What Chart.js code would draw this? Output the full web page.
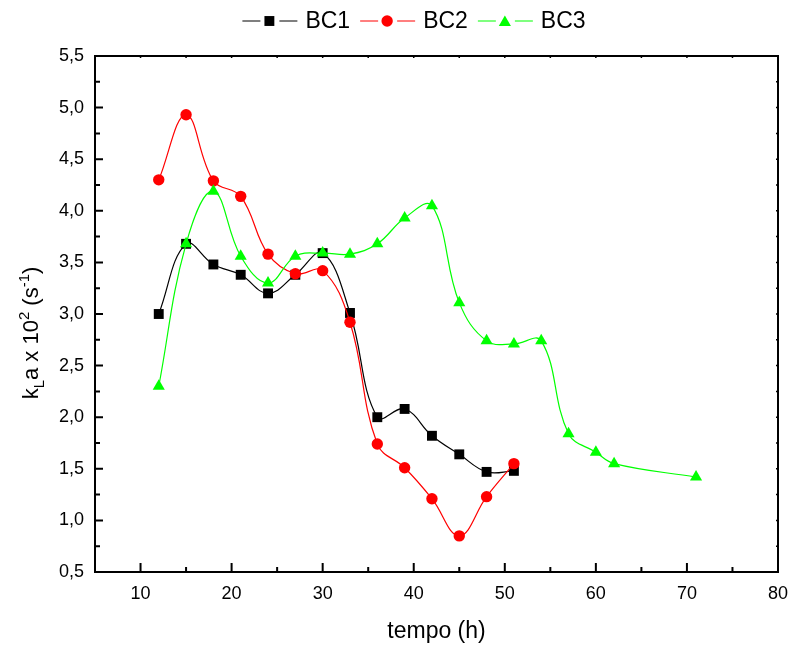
<!DOCTYPE html>
<html>
<head>
<meta charset="utf-8">
<script src="https://cdn.jsdelivr.net/npm/chart.js@4/dist/chart.umd.min.js"></script>
<style>
  html, body { margin: 0; padding: 0; background: #fff; }
  #wrap { width: 790px; height: 646px; }
</style>
</head>
<body>
<div id="wrap"><canvas id="c" width="790" height="646"></canvas></div>
<script>
// Sampling times (h) and kLa x 10^2 (s^-1) for the three runs
const hoursBC12 = [12, 15, 18, 21, 24, 27, 30, 33, 36, 39, 42, 45, 48, 51];
const kLaBC1 = [3.00, 3.68, 3.48, 3.38, 3.20, 3.38, 3.59, 3.01, 2.00, 2.08, 1.82, 1.64, 1.47, 1.48];
const kLaBC2 = [4.30, 4.93, 4.29, 4.14, 3.58, 3.39, 3.42, 2.92, 1.74, 1.51, 1.21, 0.85, 1.23, 1.55];
const hoursBC3 = [12, 15, 18, 21, 24, 27, 30, 33, 36, 39, 42, 45, 48, 51, 54, 57, 60, 62, 71];
const kLaBC3 = [2.30, 3.68, 4.19, 3.56, 3.30, 3.56, 3.59, 3.58, 3.68, 3.93, 4.05, 3.11, 2.74, 2.71, 2.74, 1.84, 1.66, 1.55, 1.42];

const seriesNames = ['BC1', 'BC2', 'BC3'];
const xTicks = [10, 20, 30, 40, 50, 60, 70, 80];
const yTicks = [0.5, 1.0, 1.5, 2.0, 2.5, 3.0, 3.5, 4.0, 4.5, 5.0, 5.5];
const yTickLabels = ['0,5', '1,0', '1,5', '2,0', '2,5', '3,0', '3,5', '4,0', '4,5', '5,0', '5,5'];

const FONT = '"Liberation Sans", Arial, Helvetica, sans-serif';

const toPoints = (xs, ys) => xs.map((x, i) => ({ x: x, y: ys[i] }));

// Frame, inward ticks, axis titles and line+marker legend
const decorations = {
  id: 'decorations',
  afterDraw(chart) {
    const ctx = chart.ctx;
    const a = chart.chartArea;
    const xs = chart.scales.x, ys = chart.scales.y;
    ctx.save();
    ctx.strokeStyle = '#000';
    ctx.lineWidth = 2;
    ctx.strokeRect(a.left, a.top, a.right - a.left, a.bottom - a.top);

    // major / minor ticks on left and bottom, pointing inwards
    ctx.lineWidth = 2;
    ctx.beginPath();
    xTicks.forEach((v) => {
      const px = xs.getPixelForValue(v);
      ctx.moveTo(px, a.bottom); ctx.lineTo(px, a.bottom - 9);
      const pm = xs.getPixelForValue(v - (xTicks[1] - xTicks[0]) / 2);
      ctx.moveTo(pm, a.bottom); ctx.lineTo(pm, a.bottom - 5);
    });
    yTicks.forEach((v, i) => {
      const py = ys.getPixelForValue(v);
      ctx.moveTo(a.left, py); ctx.lineTo(a.left + 8, py);
      if (i < yTicks.length - 1) {
        const pm = ys.getPixelForValue((v + yTicks[i + 1]) / 2);
        ctx.moveTo(a.left, pm); ctx.lineTo(a.left + 5, pm);
      }
    });
    ctx.stroke();

    // tiny ticks on the top and right edges
    ctx.lineWidth = 1.5;
    ctx.beginPath();
    xTicks.forEach((v) => {
      [v - 5, v].forEach((t) => {
        const px = xs.getPixelForValue(t);
        ctx.moveTo(px, a.top); ctx.lineTo(px, a.top + 2);
      });
    });
    yTicks.forEach((v, i) => {
      if (i < yTicks.length - 1) {
        [v, (v + yTicks[i + 1]) / 2].forEach((t) => {
          const py = ys.getPixelForValue(t);
          ctx.moveTo(a.right, py); ctx.lineTo(a.right - 2, py);
        });
      }
    });
    ctx.stroke();

    // x axis title
    ctx.fillStyle = '#000';
    ctx.font = '23px ' + FONT;
    ctx.textAlign = 'center';
    ctx.textBaseline = 'middle';
    ctx.fillText('tempo (h)', (a.left + a.right) / 2, 632);

    // y axis title with sub/superscripts
    const big = '22px ' + FONT, small = '15px ' + FONT;
    const parts = [
      { t: 'k', f: big, dy: 0 },
      { t: 'L', f: small, dy: 6 },
      { t: 'a x 10', f: big, dy: 0 },
      { t: '2', f: small, dy: -9 },
      { t: ' (s', f: big, dy: 0 },
      { t: '-1', f: small, dy: -9 },
      { t: ')', f: big, dy: 0 }
    ];
    let total = 0;
    parts.forEach((p) => { ctx.font = p.f; p.w = ctx.measureText(p.t).width; total += p.w; });
    ctx.save();
    ctx.translate(38, 333);
    ctx.rotate(-Math.PI / 2);
    ctx.textAlign = 'left';
    ctx.textBaseline = 'alphabetic';
    let cx = -total / 2;
    parts.forEach((p) => { ctx.font = p.f; ctx.fillText(p.t, cx, p.dy); cx += p.w; });
    ctx.restore();

    // legend: line - marker - line, then the series name
    ctx.font = '23px ' + FONT;
    const items = chart.data.datasets.map((ds) => ({ ds: ds, tw: ctx.measureText(ds.label).width }));
    const gap = 10;
    let width = 0;
    items.forEach((it, i) => { width += 63 + it.tw + (i ? gap : 0); });
    let x0 = 414 - width / 2;
    const ly = 21;
    items.forEach((it) => {
      const ds = it.ds;
      ctx.strokeStyle = ds.borderColor;
      ctx.lineWidth = 1.2;
      ctx.beginPath();
      ctx.moveTo(x0, ly); ctx.lineTo(x0 + 18, ly);
      ctx.moveTo(x0 + 37, ly); ctx.lineTo(x0 + 55, ly);
      ctx.stroke();
      ctx.fillStyle = ds.pointBackgroundColor;
      Chart.helpers.drawPoint(ctx, { pointStyle: ds.pointStyle, radius: ds.pointRadius, rotation: 0, borderWidth: 0 }, x0 + 27, ly + (ds.pointStyle === 'triangle' ? 1.5 : 0));
      ctx.fillStyle = '#000';
      ctx.textAlign = 'left';
      ctx.textBaseline = 'middle';
      ctx.fillText(ds.label, x0 + 63, ly + 1);
      x0 += 63 + it.tw + gap;
    });
    ctx.restore();
  }
};

const seriesStyle = (color, style, radius, order) => ({
  showLine: true,
  borderColor: color,
  backgroundColor: color,
  pointBackgroundColor: color,
  pointBorderWidth: 0,
  pointStyle: style,
  pointRadius: radius,
  pointHoverRadius: radius,
  borderWidth: 1.2,
  tension: 0.4,
  fill: false,
  order: order
});

new Chart(document.getElementById('c'), {
  type: 'scatter',
  data: {
    datasets: [
      Object.assign({ label: seriesNames[0], data: toPoints(hoursBC12, kLaBC1) }, seriesStyle('#000000', 'rect', 7, 2)),
      Object.assign({ label: seriesNames[1], data: toPoints(hoursBC12, kLaBC2) }, seriesStyle('#ff0000', 'circle', 5.7, 1)),
      Object.assign({ label: seriesNames[2], data: toPoints(hoursBC3, kLaBC3) }, seriesStyle('#00ff00', 'triangle', 7, 0))
    ]
  },
  options: {
    responsive: false,
    animation: false,
    events: [],
    layout: { padding: { top: 56, right: 12, left: 0, bottom: 0 }, autoPadding: false },
    plugins: { legend: { display: false }, tooltip: { enabled: false } },
    scales: {
      x: {
        type: 'linear',
        min: 5,
        max: 80,
        afterBuildTicks: (s) => { s.ticks = xTicks.map((v) => ({ value: v })); },
        afterFit: (s) => { s.height = 74; s.paddingRight = 0; s.paddingLeft = 0; },
        grid: { display: false, drawTicks: false },
        border: { display: false },
        ticks: {
          color: '#000',
          font: { family: FONT, size: 18 },
          padding: 11,
          maxRotation: 0,
          autoSkip: false,
          callback: (v) => String(v)
        }
      },
      y: {
        type: 'linear',
        min: 0.5,
        max: 5.5,
        afterBuildTicks: (s) => { s.ticks = yTicks.map((v) => ({ value: v })); },
        afterFit: (s) => { s.width = 95; s.paddingTop = 0; s.paddingBottom = 0; },
        grid: { display: false, drawTicks: false },
        border: { display: false },
        ticks: {
          color: '#000',
          font: { family: FONT, size: 18 },
          padding: 11,
          autoSkip: false,
          callback: (v, i) => yTickLabels[i]
        }
      }
    }
  },
  plugins: [decorations]
});
</script>
</body>
</html>
